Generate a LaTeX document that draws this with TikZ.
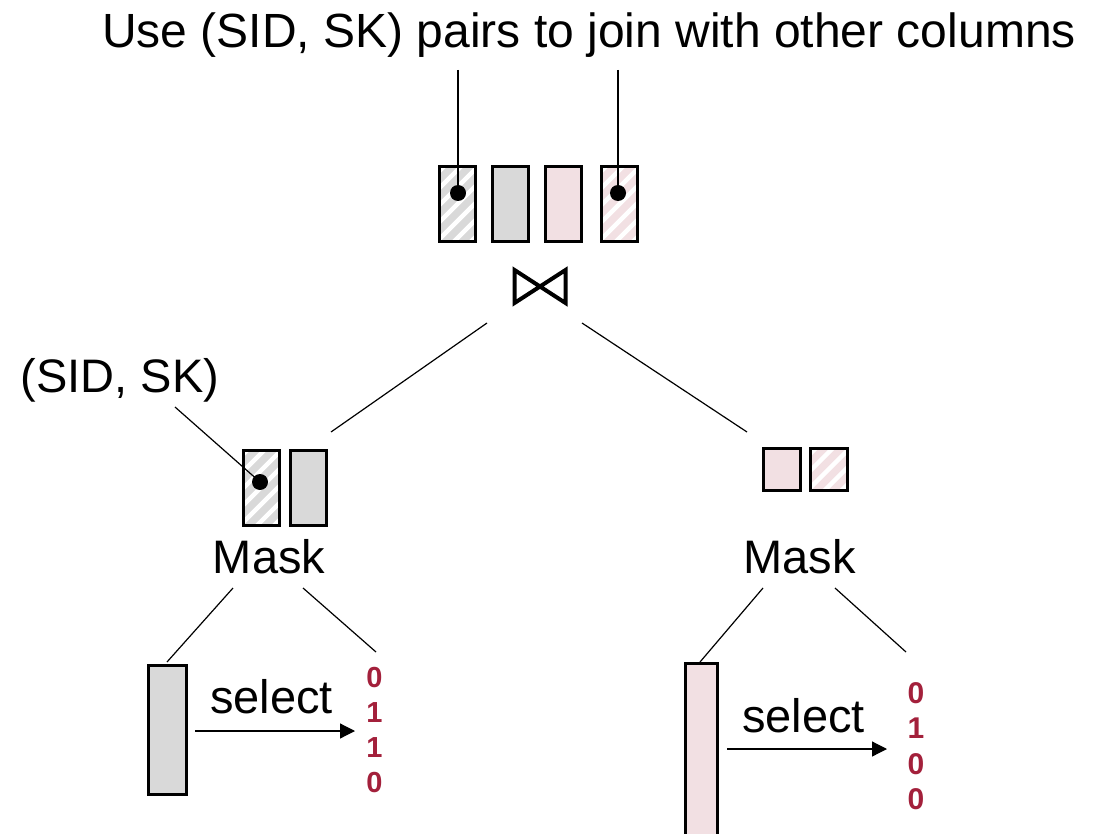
\documentclass[tikz,border=0pt]{standalone}
\usepackage{fontspec}
\setmainfont{Liberation Sans}
\usetikzlibrary{arrows.meta}

\definecolor{colgray}{HTML}{D9D9D9}
\definecolor{colpink}{HTML}{F2E0E3}
\definecolor{bitred}{HTML}{A3203B}

\tikzset{
  col/.style={draw=black, line width=3pt, inner sep=0pt, minimum width=36pt, minimum height=75pt},
  graycol/.style={col, fill=colgray},
  pinkcol/.style={col, fill=colpink},
  hatched/.style={path picture={
      \foreach \k in {-9,...,9}
        \draw[white, line width=4.5pt]
          ([shift={({\k*17-100},-100)}]path picture bounding box.center) -- ++(200,200);
    }},
  dot/.style={circle, fill=black, inner sep=0pt, minimum size=16pt},
  conn/.style={line width=1.2pt},
  txt/.style={inner sep=0pt, anchor=base, font=\fontsize{47}{56}\selectfont},
  bit/.style={inner sep=0pt, anchor=base, text=bitred, font=\bfseries\fontsize{29}{34}\selectfont},
  selarrow/.style={line width=1.2pt, -{Triangle[length=15pt, width=15pt]}},
}

\begin{document}
\begin{tikzpicture}[x=1pt, y=1pt]
\useasboundingbox (0,0) rectangle (1094,-834);
\clip (0,0) rectangle (1094,-834);

% heading
\node[txt, font=\fontsize{48}{56}\selectfont] (title) at (589,-48) {Use (SID, SK) pairs to join with other columns};

% joined result columns
\node[graycol, hatched] (t1) at (457.5,-204) {};
\node[graycol]          (t2) at (510.5,-204) {};
\node[pinkcol]          (t3) at (563.5,-204) {};
\node[pinkcol, hatched] (t4) at (619.5,-204) {};
\node[dot] (d1) at (458,-193) {};
\node[dot] (d2) at (618,-193) {};
\coordinate (u1) at (458,-70);
\coordinate (u2) at (618,-70);
\draw[conn] (u1) -- (d1.center);
\draw[conn] (u2) -- (d2.center);

% join operator
\coordinate (join) at (540,-286.5);
\draw[line width=4pt, line join=miter]
  ([shift={(-25.5,16.5)}]join) -- ([shift={(-25.5,-16.5)}]join) --
  ([shift={(25.5,16.5)}]join) -- ([shift={(25.5,-16.5)}]join) -- cycle;

\coordinate (jl) at (487,-323);
\coordinate (jr) at (582,-323);
\coordinate (ml) at (331,-432);
\coordinate (mr) at (747,-432);
\draw[conn] (jl) -- (ml);
\draw[conn] (jr) -- (mr);

% left masked pair
\node[graycol, hatched] (l1) at (261,-487.5) {};
\node[graycol]          (l2) at (308,-487.5) {};
\node[dot] (d3) at (260,-482) {};
\node[txt] (pair) at (120,-392) {(SID, SK)};
\coordinate (pl) at (175,-407);
\draw[conn] (pl) -- (d3.center);

% right masked pair
\node[pinkcol, minimum height=42pt, minimum width=37pt]          (r1) at (782,-469.5) {};
\node[pinkcol, hatched, minimum height=42pt, minimum width=37pt] (r2) at (828.5,-469.5) {};

% mask operators
\node[txt] (maskL) at (269,-573) {Mask};
\node[txt] (maskR) at (799.5,-573) {Mask};

% left selection
\node[graycol, minimum height=129pt, minimum width=38pt] (barL) at (167.5,-730) {};
\node[txt] (selL) at (271.5,-713) {select};
\foreach \b [count=\i] in {0,1,1,0}
  \node[bit] (bl\i) at (374.5,{-687-35*(\i-1)}) {\b};
\coordinate (al) at (195,-731);
\coordinate (bl) at (355,-731);
\draw[selarrow] (al) -- (bl);

\coordinate (mL1) at (233,-588);
\coordinate (mL2) at (303,-588);
\coordinate (bLtop) at (167,-662);
\coordinate (bitLtop) at (376,-652);
\draw[conn] (mL1) -- (bLtop);
\draw[conn] (mL2) -- (bitLtop);

% right selection
\node[pinkcol, minimum height=190pt, minimum width=32pt] (barR) at (701.5,-758) {};
\node[txt] (selR) at (803.5,-732) {select};
\foreach \b [count=\i] in {0,1,0,0}
  \node[bit, font=\bfseries\fontsize{30}{34}\selectfont] (br\i) at (916,{-703-35.5*(\i-1)}) {\b};
\coordinate (ar) at (727,-749);
\coordinate (brr) at (887,-749);
\draw[selarrow] (ar) -- (brr);

\coordinate (mR1) at (763,-588);
\coordinate (mR2) at (835,-588);
\coordinate (bRtop) at (700,-662);
\coordinate (bitRtop) at (906,-652);
\draw[conn] (mR1) -- (bRtop);
\draw[conn] (mR2) -- (bitRtop);
\end{tikzpicture}
\end{document}
